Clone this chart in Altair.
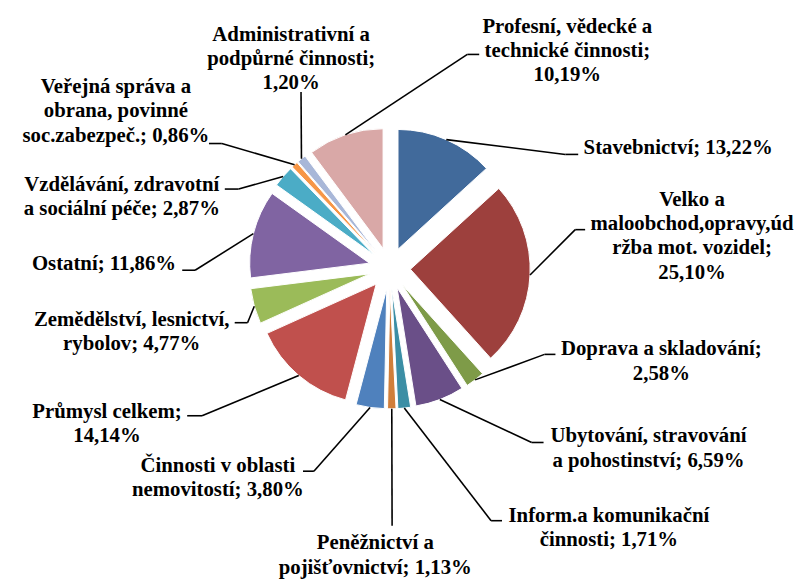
import altair as alt
import pandas as pd

# ---- data ----
names = [
    "Stavebnictví",
    "Velko a\nmaloobchod,opravy,úd\nržba mot. vozidel",
    "Doprava a skladování",
    "Ubytování, stravování\na pohostinství",
    "Inform.a komunikační\nčinnosti",
    "Peněžnictví a\npojišťovnictví",
    "Činnosti v oblasti\nnemovitostí",
    "Průmysl celkem",
    "Zemědělství, lesnictví,\nrybolov",
    "Ostatní",
    "Vzdělávání, zdravotní\na sociální péče",
    "Veřejná správa a\nobrana, povinné\nsoc.zabezpeč.",
    "Administrativní a\npodpůrné činnosti",
    "Profesní, vědecké a\ntechnické činnosti",
]
values = [13.22, 25.10, 2.58, 6.59, 1.71, 1.13, 3.80, 14.14, 4.77, 11.86, 2.87, 0.86, 1.20, 10.19]
separators = ["; ", ";\n", ";\n", "; ", "; ", "; ", "; ", ";\n", "; ", "; ", "; ", "; ", ";\n", ";\n"]

colors = ["#416A9B", "#9D403D", "#7E9B48", "#6A4F88", "#3B8EA5", "#D07E3A", "#4F81BD",
          "#C0504D", "#9BBB59", "#8064A2", "#4BACC6", "#F79646", "#A8B7D8", "#D9A8A7"]

# ---- layout (page pixel coordinates) ----
W, H = 795, 571
PAGE_X = (803 - W) / 2   # chart is centred horizontally on the page
PAGE_Y = 8
CX, CY = 389.5 - PAGE_X, 268 - PAGE_Y
EXPLODE = 21
RADIUS = 121

# centre x of the label block, y of its first line
label_pos = [(681, 147), (695, 199), (664, 350), (651, 438), (611, 518), (375, 546), (216, 468),
             (104, 413), (129, 320), (101, 264), (119, 184), (113, 85), (290, 32), (569, 24)]
leader_elbow = [(567, 153), (577, 229), (546, 355), (533, 444), (492, 523), (392, 528), (313, 473),
                (200, 417), (246, 323), (193, 270), (237, 188), (220, 142), (300, 90), (468, 52)]
leader_end = [(580, 153), (587, 229), (557, 355), (545, 444), (503, 523), (392, 528), (302, 473),
              (185, 417), (233, 323), (180, 270), (223, 188), (207, 142), (300, 90), (480, 52)]

labels = [n + s + f"{v:.2f}".replace(".", ",") + "%" for n, s, v in zip(names, separators, values)]

df = pd.DataFrame({
    "order": list(range(len(values))),
    "cat": [n.replace("\n", " ") for n in names],
    "value": values,
    "label": labels,
    "lx": [p[0] - PAGE_X for p in label_pos],
    "ly": [p[1] - PAGE_Y for p in label_pos],
    "ex": [p[0] - PAGE_X for p in leader_elbow],
    "ey": [p[1] - PAGE_Y for p in leader_elbow],
    "tx": [p[0] - PAGE_X for p in leader_end],
    "ty": [p[1] - PAGE_Y for p in leader_end],
})

base = alt.Chart(df).transform_window(
    cum="sum(value)", sort=[alt.SortField("order")], frame=[None, 0]
).transform_joinaggregate(
    total="sum(value)"
).transform_calculate(
    a1="2*PI*(datum.cum - datum.value)/datum.total",
    a2="2*PI*datum.cum/datum.total",
).transform_calculate(
    mid="(datum.a1 + datum.a2)/2"
).transform_calculate(
    cx=f"{CX} + {EXPLODE}*sin(datum.mid)",
    cy=f"{CY} - {EXPLODE}*cos(datum.mid)",
).transform_calculate(
    sx=f"datum.cx + {RADIUS}*sin(datum.mid)",
    sy=f"datum.cy - {RADIUS}*cos(datum.mid)",
)

arcs = base.mark_arc(radius=RADIUS, stroke="white", strokeWidth=1).encode(
    theta=alt.Theta("a1:Q", scale=None),
    theta2="a2:Q",
    x=alt.X("cx:Q", scale=None),
    y=alt.Y("cy:Q", scale=None),
    color=alt.Color("cat:N", scale=alt.Scale(domain=df["cat"].tolist(), range=colors), legend=None),
)

lead1 = base.mark_rule(color="black", strokeWidth=1.6).encode(
    x=alt.X("sx:Q", scale=None), y=alt.Y("sy:Q", scale=None), x2="ex:Q", y2="ey:Q"
)
lead2 = base.mark_rule(color="black", strokeWidth=1.6).encode(
    x=alt.X("ex:Q", scale=None), y=alt.Y("ey:Q", scale=None), x2="tx:Q", y2="ty:Q"
)

text = base.mark_text(
    lineBreak="\n", font="Liberation Serif, Times New Roman, DejaVu Serif, serif",
    fontWeight="bold", fontSize=21, lineHeight=24.5, align="center", baseline="middle",
    color="black"
).encode(
    x=alt.X("lx:Q", scale=None), y=alt.Y("ly:Q", scale=None), text="label:N"
)

chart = alt.layer(arcs, lead1, lead2, text).properties(
    width=W, height=H, padding=0, autosize=alt.AutoSizeParams(type="none")
).configure_view(stroke=None)

chart.save("out.html", embed_options={"renderer": "svg", "actions": False})
